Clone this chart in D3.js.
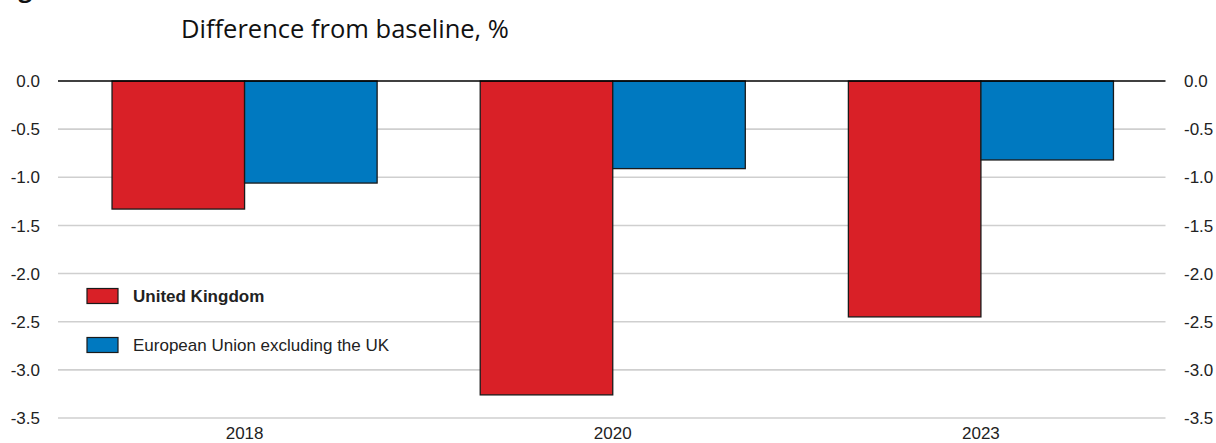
<!DOCTYPE html>
<html>
<head>
<meta charset="utf-8">
<script src="https://cdn.jsdelivr.net/npm/d3@7"></script>
<style>
  html, body { margin: 0; padding: 0; background: #fff; }
  svg { display: block; }
  .tick text { font-family: "Liberation Sans", Arial, sans-serif; }
</style>
</head>
<body>
<svg id="chart" width="1216" height="443"></svg>
<script>
const categories = ["2018", "2020", "2023"];
const seriesNames = ["United Kingdom", "European Union excluding the UK"];
const ukValues = [-1.33, -3.26, -2.45];
const euValues = [-1.06, -0.91, -0.82];
const yTicks = [0.0, -0.5, -1.0, -1.5, -2.0, -2.5, -3.0, -3.5];
const colors = ["#d92027", "#0079c0"];

(function () {
const svg = d3.select("#chart");
const plotLeft = 58, plotRight = 1165.5, plotTop = 81, plotBottom = 418;

const y = d3.scaleLinear().domain([-3.5, 0]).range([plotBottom, plotTop]);
const x = d3.scaleBand().domain(categories).range([60.5, 1165]).paddingInner(0.28).paddingOuter(0.14);
const xs = d3.scaleBand().domain(seriesNames).range([0, x.bandwidth()]);

// partial figure heading cut at the top (as in the reference)
svg.append("text").attr("x", -2).attr("y", -3)
  .attr("font-family", "Open Sans, sans-serif").attr("font-weight", "bold")
  .attr("font-size", 24).attr("fill", "#111").text("Fig");

// title
svg.append("text").attr("x", 181).attr("y", 38)
  .attr("font-family", "Open Sans, sans-serif").attr("font-size", 25.5)
  .attr("fill", "#111").text("Difference from baseline, %");

// gridlines
svg.append("g").selectAll("line").data(yTicks.filter(d => d !== 0)).join("line")
  .attr("x1", plotLeft).attr("x2", plotRight)
  .attr("y1", d => y(d)).attr("y2", d => y(d))
  .attr("stroke", "#cfcfcf").attr("stroke-width", 1.6);

const fmt = d => d3.format(".1f")(d).replace("\u2212", "-");

// left axis
const yAxisL = d3.axisLeft(y).tickValues(yTicks).tickFormat(fmt).tickSize(0).tickPadding(0);
const gL = svg.append("g").attr("transform", "translate(40,0)").call(yAxisL);
gL.select(".domain").remove();
gL.selectAll("text").attr("font-size", 17).attr("fill", "#222").attr("dy", "0.33em");

// right axis
const yAxisR = d3.axisRight(y).tickValues(yTicks).tickFormat(fmt).tickSize(0).tickPadding(0);
const gR = svg.append("g").attr("transform", "translate(1184,0)").call(yAxisR);
gR.select(".domain").remove();
gR.selectAll("text").attr("font-size", 17).attr("fill", "#222").attr("dy", "0.33em");

// bars
const data = categories.map((c, i) => ({ cat: c, vals: [ukValues[i], euValues[i]] }));
const groups = svg.append("g").selectAll("g").data(data).join("g")
  .attr("transform", d => `translate(${x(d.cat)},0)`);
groups.selectAll("rect").data(d => d.vals.map((v, j) => ({ name: seriesNames[j], v, j }))).join("rect")
  .attr("x", d => xs(d.name))
  .attr("width", xs.bandwidth())
  .attr("y", d => y(Math.max(0, d.v)))
  .attr("height", d => Math.abs(y(d.v) - y(0)))
  .attr("fill", d => colors[d.j])
  .attr("stroke", "#1a1a1a").attr("stroke-width", 1.3);

// zero line
svg.append("line").attr("x1", plotLeft).attr("x2", plotRight)
  .attr("y1", y(0)).attr("y2", y(0))
  .attr("stroke", "#000").attr("stroke-width", 1.4);

// x axis labels
const xAxis = d3.axisBottom(x).tickSize(0).tickPadding(0);
const gX = svg.append("g").attr("transform", "translate(0,426)").call(xAxis);
gX.select(".domain").remove();
gX.selectAll("text").attr("font-size", 17).attr("fill", "#222").attr("dy", "0.75em");

// legend
const legendY = [296, 345];
const lg = svg.append("g").selectAll("g").data(seriesNames).join("g")
  .attr("transform", (d, i) => `translate(87,${legendY[i]})`);
lg.append("rect").attr("x", 0).attr("y", -7.5).attr("width", 31).attr("height", 15)
  .attr("fill", (d, i) => colors[i]).attr("stroke", "#1a1a1a").attr("stroke-width", 1.2);
lg.append("text").attr("x", 46).attr("y", 0).attr("dy", "0.35em")
  .attr("font-family", "Liberation Sans, Arial, sans-serif").attr("font-size", 17)
  .attr("font-weight", (d, i) => i === 0 ? "bold" : "normal")
  .attr("fill", "#222").text(d => d);
})();
</script>
</body>
</html>
